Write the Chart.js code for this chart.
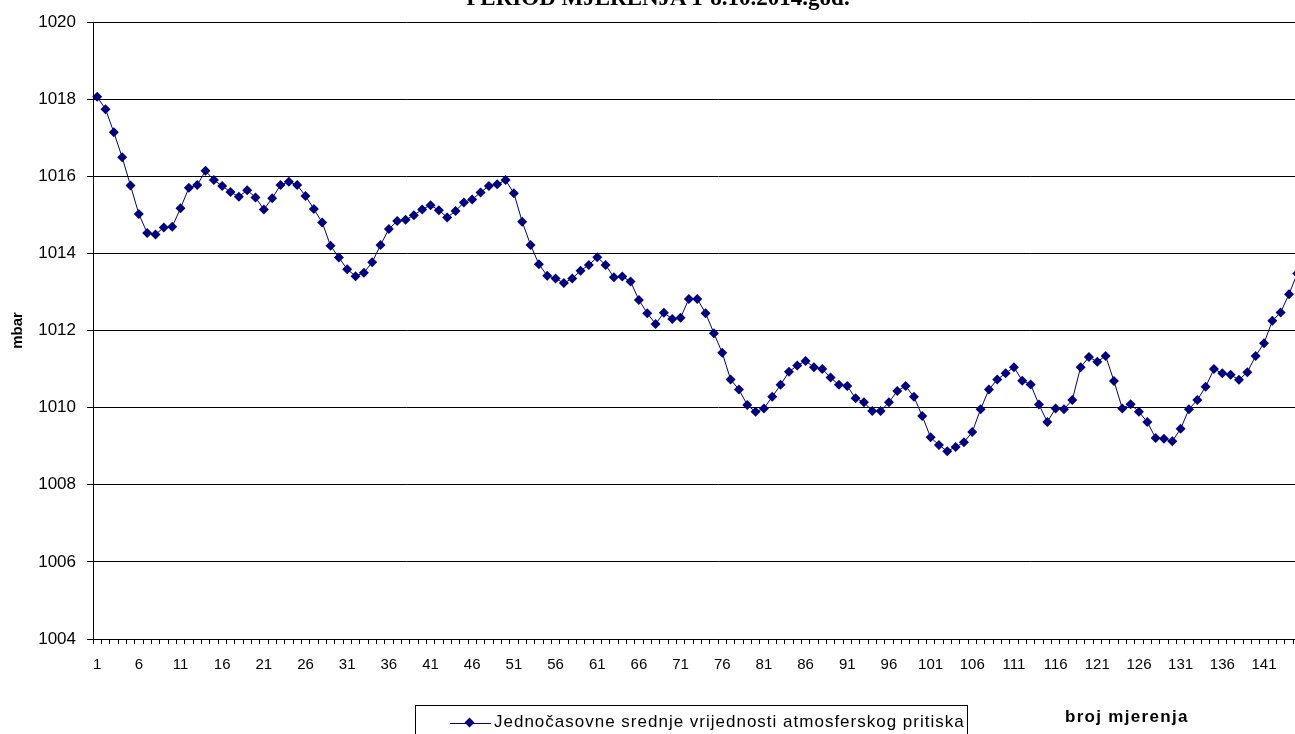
<!DOCTYPE html>
<html>
<head>
<meta charset="utf-8">
<script src="https://cdn.jsdelivr.net/npm/chart.js@4"></script>
<style>
    html, body { margin: 0; padding: 0; background: #fff; }
    #frame { position: relative; width: 1295px; height: 734px; overflow: hidden; }
    #pressureChart { position: absolute; left: 0; top: 0; }
    .title { position: absolute; left: 0; width: 1316px; top: -15px; line-height: 23px; text-align: center;
             font: bold 23px "Liberation Serif", serif; color: #000; }
    .legend-box { position: absolute; left: 415px; top: 705px; width: 553px; height: 40px;
                  border: 1px solid #000; box-sizing: border-box; }
    .legend-line { position: absolute; left: 34px; top: 17px; width: 41px; border-top: 1px solid #000080; }
    .legend-dot { position: absolute; left: 50px; top: 13px; width: 7px; height: 7px;
                  background: #000080; transform: rotate(45deg); }
    .legend-text { position: absolute; left: 78px; top: 6px; white-space: nowrap; letter-spacing: 1px;
                   font: 17px "Liberation Sans", Arial, sans-serif; color: #000; }
    .x-title { position: absolute; left: 1065px; top: 707px; white-space: nowrap; letter-spacing: 1.3px;
               font: bold 17px "Liberation Sans", Arial, sans-serif; color: #000; }
</style>
</head>
<body>
<div id="frame">
    <canvas id="pressureChart" width="1351" height="734"></canvas>
    <div class="title">PERIOD MJERENJA 1-8.10.2014.god.</div>
    <div class="legend-box">
        <div class="legend-line"></div>
        <div class="legend-dot"></div>
        <div class="legend-text" id="legendText"></div>
    </div>
    <div class="x-title">broj mjerenja</div>
</div>
<script>
/**
 * DATA
 */
const seriesName = 'Jednočasovne srednje vrijednosti atmosferskog pritiska';
const yTicks = [1004, 1006, 1008, 1010, 1012, 1014, 1016, 1018, 1020];
const measurementCount = 150; // axis keeps going past the right edge of the picture
const measurementNo = Array.from({ length: measurementCount }, (_, i) => String(i + 1));
const lastLabelIndex = 140; // "141" is the last number that fits in the picture

// mbar, one value per hour
const pressure = [
    1018.06, 1017.74, 1017.14, 1016.49, 1015.76, 1015.02, 1014.53, 1014.49, 1014.67, 1014.69,
    1015.17, 1015.70, 1015.77, 1016.14, 1015.90, 1015.75, 1015.59, 1015.47, 1015.64, 1015.45,
    1015.14, 1015.43, 1015.77, 1015.86, 1015.77, 1015.49, 1015.15, 1014.80, 1014.20, 1013.89,
    1013.59, 1013.41, 1013.50, 1013.77, 1014.22, 1014.63, 1014.84, 1014.87, 1014.99, 1015.14,
    1015.25, 1015.12, 1014.93, 1015.10, 1015.32, 1015.40, 1015.58, 1015.75, 1015.79, 1015.90,
    1015.56, 1014.82, 1014.22, 1013.72, 1013.42, 1013.35, 1013.23, 1013.35, 1013.55, 1013.70,
    1013.90, 1013.70, 1013.38, 1013.40, 1013.27, 1012.79, 1012.45, 1012.17, 1012.46, 1012.30,
    1012.33, 1012.82, 1012.82, 1012.45, 1011.93, 1011.42, 1010.73, 1010.47, 1010.07, 1009.89,
    1009.98, 1010.28, 1010.59, 1010.93, 1011.09, 1011.21, 1011.05, 1011.00, 1010.78, 1010.59,
    1010.56, 1010.24, 1010.14, 1009.91, 1009.91, 1010.14, 1010.43, 1010.56, 1010.28, 1009.78,
    1009.23, 1009.03, 1008.87, 1008.98, 1009.10, 1009.37, 1009.96, 1010.47, 1010.73, 1010.89,
    1011.05, 1010.70, 1010.60, 1010.08, 1009.63, 1009.98, 1009.96, 1010.20, 1011.05, 1011.31,
    1011.19, 1011.34, 1010.69, 1009.98, 1010.09, 1009.89, 1009.63, 1009.21, 1009.19, 1009.13,
    1009.45, 1009.96, 1010.20, 1010.54, 1011.00, 1010.89, 1010.85, 1010.72, 1010.92, 1011.34,
    1011.67, 1012.25, 1012.47, 1012.94, 1013.48
];

/**
 * CHART
 */
document.getElementById('legendText').innerText = seriesName;

new Chart(document.getElementById('pressureChart'), {
    type: 'line',
    data: {
        labels: measurementNo,
        datasets: [{
            label: seriesName,
            data: pressure,
            borderColor: '#000080',
            borderWidth: 1,
            backgroundColor: '#000080',
            pointStyle: 'rectRot',
            pointRadius: 5,
            pointBorderWidth: 0,
            tension: 0
        }]
    },
    options: {
        responsive: false,
        animation: false,
        layout: { padding: { top: 22, right: 0, left: 0, bottom: 0 } },
        plugins: { legend: { display: false }, tooltip: { enabled: false } },
        scales: {
            x: {
                offset: true,
                grid: { offset: true, drawOnChartArea: false, color: '#000', tickLength: 5 },
                border: { color: '#000', width: 1 },
                ticks: {
                    autoSkip: false, maxRotation: 0, minRotation: 0, padding: 12, color: '#000',
                    font: { family: 'Liberation Sans', size: 15 },
                    callback: (v, i) => (i % 5 === 0 && i <= lastLabelIndex) ? measurementNo[i] : ''
                },
                afterFit: s => { s.height = 95; }
            },
            y: {
                min: 1004, max: 1020,
                afterBuildTicks: s => { s.ticks = yTicks.map(v => ({ value: v })); },
                grid: { color: '#000', tickLength: 6 },
                border: { color: '#000', width: 1 },
                ticks: { padding: 11, color: '#000', font: { family: 'Liberation Sans', size: 17 },
                         callback: v => String(v) },
                title: { display: true, text: 'mbar', color: '#000', padding: { top: 9, bottom: 0 },
                         font: { family: 'Liberation Sans', size: 15, weight: 'bold' } },
                afterFit: s => { s.width = 93; }
            }
        }
    }
});
</script>
</body>
</html>
